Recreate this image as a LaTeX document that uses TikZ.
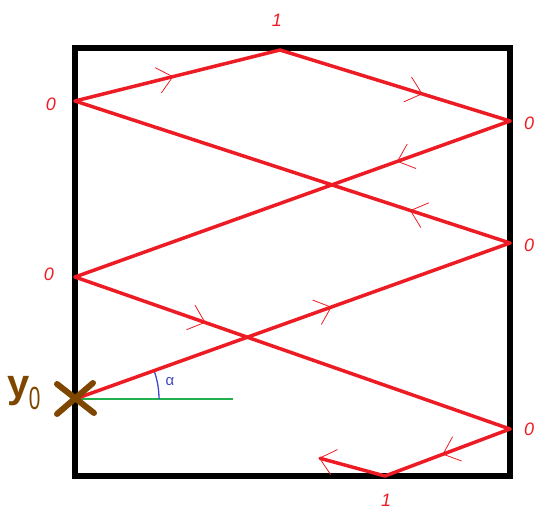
\documentclass[tikz,border=0pt]{standalone}
\usepackage{fontspec}
\setmainfont{Liberation Sans}
\usetikzlibrary{arrows.meta,decorations.markings}
\definecolor{bounceRed}{HTML}{ED1C24}
\definecolor{startBrown}{HTML}{7F4600}
\definecolor{baseGreen}{HTML}{22B14C}
\definecolor{angleBlue}{HTML}{3F48CC}
\tikzset{
  bounce/.style={bounceRed, line width=3.5pt, line cap=round},
  barb/.tip={Straight Barb[length=15pt, width=26pt, line width=0.8pt]},
  midarrow/.style={postaction={decorate, decoration={markings,
      mark=at position #1 with {\arrow{barb}}}}},
  wallnum/.style={bounceRed, font=\fontsize{18}{20}\selectfont\itshape}
}
\begin{document}
\begin{tikzpicture}[x=1pt, y=-1pt]
  \clip (0,0) rectangle (535,510);
  \draw[line width=6pt] (75,48) rectangle (510,476);
  \coordinate (y0) at (75,399);
  \coordinate (r1) at (510,243);
  \coordinate (l1) at (75,101);
  \coordinate (t) at (280,50);
  \coordinate (r2) at (510,121);
  \coordinate (l2) at (75,277);
  \coordinate (r3) at (510,429);
  \coordinate (b) at (385,476);
  \coordinate (e) at (319,458);
  \coordinate (h) at (233,399);
  \draw[baseGreen, line width=1.3pt] (y0) -- (h);
  \draw[angleBlue, line width=1.3pt] (y0) ++(84,0) arc[start angle=0, end angle=-19.7, radius=84];
  \draw[bounce, midarrow=0.59] (y0) -- (r1);
  \draw[bounce, midarrow=0.23] (r1) -- (l1);
  \draw[bounce, midarrow=0.48] (l1) -- (t);
  \draw[bounce, midarrow=0.62] (t) -- (r2);
  \draw[bounce, midarrow=0.26] (r2) -- (l2);
  \draw[bounce, midarrow=0.30] (l2) -- (r3);
  \draw[bounce, midarrow=0.54] (r3) -- (b);
  \draw[bounce, -barb] (b) -- (e);
  \draw[startBrown, line width=6pt, line cap=round] (y0) ++(-18,-15) -- ++(37,29) (y0) ++(18,-16) -- ++(-36,31);
  \node[wallnum] (ttop) at (277,20) {1};
  \node[wallnum] (tbot) at (386,500) {1};
  \node[wallnum] (tl1) at (51,104) {0};
  \node[wallnum] (tl2) at (49,274) {0};
  \node[wallnum] (tr2) at (529,123) {0};
  \node[wallnum] (tr1) at (529,245) {0};
  \node[wallnum] (tr3) at (529,429) {0};
  \node[angleBlue, font=\fontsize{15}{16}\selectfont] (alpha) at (170,382) {α};
  \node[startBrown, inner sep=0pt] (ylab) at (24,393) {{\fontsize{40}{40}\selectfont\bfseries y}\kern-1pt\raisebox{-12pt}{\scalebox{0.65}[1]{\fontsize{32}{32}\selectfont 0}}};
\end{tikzpicture}
\end{document}
